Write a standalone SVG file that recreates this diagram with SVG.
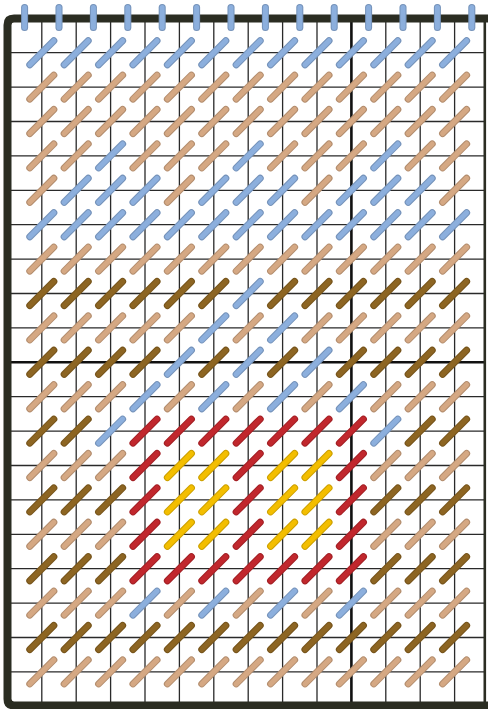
<svg xmlns="http://www.w3.org/2000/svg" xmlns:xlink="http://www.w3.org/1999/xlink" width="488" height="709" viewBox="0 0 488 709">
<style>
.g{stroke:#2a2a2a;stroke-width:1.3;fill:none}
.gt{stroke:#111;stroke-width:2.6;fill:none}
.B{color:#8cafdd}.T{color:#d5a883}.D{color:#8d6522}.R{color:#c1272d}.Y{color:#f3be00}
</style>
<defs>
<g id="s" stroke-linecap="round">
<line x1="-12" y1="12" x2="12" y2="-12" stroke="currentColor" stroke-width="7"/>
<line x1="-12" y1="12" x2="12" y2="-12" stroke="rgba(0,0,0,0.16)" stroke-width="7"/>
<line x1="-12" y1="12" x2="12" y2="-12" stroke="currentColor" stroke-width="5"/>
</g>
<g id="v" stroke-linecap="round">
<line x1="0" y1="7.5" x2="0" y2="27.5" stroke="currentColor" stroke-width="7"/>
<line x1="0" y1="7.5" x2="0" y2="27.5" stroke="rgba(0,0,0,0.16)" stroke-width="7"/>
<line x1="0" y1="7.5" x2="0" y2="27.5" stroke="currentColor" stroke-width="5"/>
</g>
</defs>
<rect x="0" y="0" width="488" height="709" fill="#ffffff"/>
<g id="grid">
<path class="g" d="M41.8 18V705M76.2 18V705M110.6 18V705M145 18V705M179.4 18V705M213.8 18V705M248.2 18V705M282.6 18V705M317 18V705M385.8 18V705M420.2 18V705M454.6 18V705"/>
<path class="g" d="M7 52.7H485M7 87.1H485M7 121.5H485M7 155.9H485M7 190.3H485M7 224.7H485M7 259.1H485M7 293.5H485M7 327.9H485M7 396.7H485M7 431.1H485M7 465.5H485M7 499.9H485M7 534.3H485M7 568.7H485M7 603.1H485M7 637.5H485M7 671.9H485"/>
<path class="gt" d="M351.4 18V705M7 362.3H485"/>
<line x1="484.8" y1="18" x2="484.8" y2="706" stroke="#2b2d22" stroke-width="2.6"/>
</g>
<g id="frame">
<path d="M488 18.6H14Q7.5 18.6 7.5 25V699Q7.5 705.4 14 705.4H488" fill="none" stroke="#2b2d22" stroke-width="8"/>
</g>
<g id="stitches">
<g id="r1" transform="translate(0,52.7)"><use href="#s" x="41.8" class="B"/><use href="#s" x="76.2" class="B"/><use href="#s" x="110.6" class="B"/><use href="#s" x="145" class="B"/><use href="#s" x="179.4" class="B"/><use href="#s" x="213.8" class="B"/><use href="#s" x="248.2" class="B"/><use href="#s" x="282.6" class="B"/><use href="#s" x="317" class="B"/><use href="#s" x="351.4" class="B"/><use href="#s" x="385.8" class="B"/><use href="#s" x="420.2" class="B"/><use href="#s" x="454.6" class="B"/></g>
<g id="r2" transform="translate(0,87.1)"><use href="#s" x="41.8" class="T"/><use href="#s" x="76.2" class="T"/><use href="#s" x="110.6" class="T"/><use href="#s" x="145" class="T"/><use href="#s" x="179.4" class="T"/><use href="#s" x="213.8" class="T"/><use href="#s" x="248.2" class="T"/><use href="#s" x="282.6" class="T"/><use href="#s" x="317" class="T"/><use href="#s" x="351.4" class="T"/><use href="#s" x="385.8" class="T"/><use href="#s" x="420.2" class="T"/><use href="#s" x="454.6" class="T"/></g>
<g id="r3" transform="translate(0,121.5)"><use href="#s" x="41.8" class="T"/><use href="#s" x="76.2" class="T"/><use href="#s" x="110.6" class="T"/><use href="#s" x="145" class="T"/><use href="#s" x="179.4" class="T"/><use href="#s" x="213.8" class="T"/><use href="#s" x="248.2" class="T"/><use href="#s" x="282.6" class="T"/><use href="#s" x="317" class="T"/><use href="#s" x="351.4" class="T"/><use href="#s" x="385.8" class="T"/><use href="#s" x="420.2" class="T"/><use href="#s" x="454.6" class="T"/></g>
<g id="r4" transform="translate(0,155.9)"><use href="#s" x="41.8" class="T"/><use href="#s" x="76.2" class="T"/><use href="#s" x="110.6" class="B"/><use href="#s" x="145" class="T"/><use href="#s" x="179.4" class="T"/><use href="#s" x="213.8" class="T"/><use href="#s" x="248.2" class="B"/><use href="#s" x="282.6" class="T"/><use href="#s" x="317" class="T"/><use href="#s" x="351.4" class="T"/><use href="#s" x="385.8" class="B"/><use href="#s" x="420.2" class="T"/><use href="#s" x="454.6" class="T"/></g>
<g id="r5" transform="translate(0,190.3)"><use href="#s" x="41.8" class="T"/><use href="#s" x="76.2" class="B"/><use href="#s" x="110.6" class="B"/><use href="#s" x="145" class="B"/><use href="#s" x="179.4" class="T"/><use href="#s" x="213.8" class="B"/><use href="#s" x="248.2" class="B"/><use href="#s" x="282.6" class="B"/><use href="#s" x="317" class="T"/><use href="#s" x="351.4" class="B"/><use href="#s" x="385.8" class="B"/><use href="#s" x="420.2" class="B"/><use href="#s" x="454.6" class="T"/></g>
<g id="r6" transform="translate(0,224.7)"><use href="#s" x="41.8" class="B"/><use href="#s" x="76.2" class="B"/><use href="#s" x="110.6" class="B"/><use href="#s" x="145" class="B"/><use href="#s" x="179.4" class="B"/><use href="#s" x="213.8" class="B"/><use href="#s" x="248.2" class="B"/><use href="#s" x="282.6" class="B"/><use href="#s" x="317" class="B"/><use href="#s" x="351.4" class="B"/><use href="#s" x="385.8" class="B"/><use href="#s" x="420.2" class="B"/><use href="#s" x="454.6" class="B"/></g>
<g id="r7" transform="translate(0,259.1)"><use href="#s" x="41.8" class="T"/><use href="#s" x="76.2" class="T"/><use href="#s" x="110.6" class="T"/><use href="#s" x="145" class="T"/><use href="#s" x="179.4" class="T"/><use href="#s" x="213.8" class="T"/><use href="#s" x="248.2" class="T"/><use href="#s" x="282.6" class="T"/><use href="#s" x="317" class="T"/><use href="#s" x="351.4" class="T"/><use href="#s" x="385.8" class="T"/><use href="#s" x="420.2" class="T"/><use href="#s" x="454.6" class="T"/></g>
<g id="r8" transform="translate(0,293.5)"><use href="#s" x="41.8" class="D"/><use href="#s" x="76.2" class="D"/><use href="#s" x="110.6" class="D"/><use href="#s" x="145" class="D"/><use href="#s" x="179.4" class="D"/><use href="#s" x="213.8" class="D"/><use href="#s" x="248.2" class="B"/><use href="#s" x="282.6" class="D"/><use href="#s" x="317" class="D"/><use href="#s" x="351.4" class="D"/><use href="#s" x="385.8" class="D"/><use href="#s" x="420.2" class="D"/><use href="#s" x="454.6" class="D"/></g>
<g id="r9" transform="translate(0,327.9)"><use href="#s" x="41.8" class="T"/><use href="#s" x="76.2" class="T"/><use href="#s" x="110.6" class="T"/><use href="#s" x="145" class="T"/><use href="#s" x="179.4" class="T"/><use href="#s" x="213.8" class="B"/><use href="#s" x="248.2" class="T"/><use href="#s" x="282.6" class="B"/><use href="#s" x="317" class="T"/><use href="#s" x="351.4" class="T"/><use href="#s" x="385.8" class="T"/><use href="#s" x="420.2" class="T"/><use href="#s" x="454.6" class="T"/></g>
<g id="r10" transform="translate(0,362.3)"><use href="#s" x="41.8" class="D"/><use href="#s" x="76.2" class="D"/><use href="#s" x="110.6" class="D"/><use href="#s" x="145" class="D"/><use href="#s" x="179.4" class="B"/><use href="#s" x="213.8" class="D"/><use href="#s" x="248.2" class="B"/><use href="#s" x="282.6" class="D"/><use href="#s" x="317" class="B"/><use href="#s" x="351.4" class="D"/><use href="#s" x="385.8" class="D"/><use href="#s" x="420.2" class="D"/><use href="#s" x="454.6" class="D"/></g>
<g id="r11" transform="translate(0,396.7)"><use href="#s" x="41.8" class="T"/><use href="#s" x="76.2" class="T"/><use href="#s" x="110.6" class="T"/><use href="#s" x="145" class="B"/><use href="#s" x="179.4" class="T"/><use href="#s" x="213.8" class="B"/><use href="#s" x="248.2" class="T"/><use href="#s" x="282.6" class="B"/><use href="#s" x="317" class="T"/><use href="#s" x="351.4" class="B"/><use href="#s" x="385.8" class="T"/><use href="#s" x="420.2" class="T"/><use href="#s" x="454.6" class="T"/></g>
<g id="r12" transform="translate(0,431.1)"><use href="#s" x="41.8" class="D"/><use href="#s" x="76.2" class="D"/><use href="#s" x="110.6" class="B"/><use href="#s" x="145" class="R"/><use href="#s" x="179.4" class="R"/><use href="#s" x="213.8" class="R"/><use href="#s" x="248.2" class="R"/><use href="#s" x="282.6" class="R"/><use href="#s" x="317" class="R"/><use href="#s" x="351.4" class="R"/><use href="#s" x="385.8" class="B"/><use href="#s" x="420.2" class="D"/><use href="#s" x="454.6" class="D"/></g>
<g id="r13" transform="translate(0,465.5)"><use href="#s" x="41.8" class="T"/><use href="#s" x="76.2" class="T"/><use href="#s" x="110.6" class="T"/><use href="#s" x="145" class="R"/><use href="#s" x="179.4" class="Y"/><use href="#s" x="213.8" class="Y"/><use href="#s" x="248.2" class="R"/><use href="#s" x="282.6" class="Y"/><use href="#s" x="317" class="Y"/><use href="#s" x="351.4" class="R"/><use href="#s" x="385.8" class="T"/><use href="#s" x="420.2" class="T"/><use href="#s" x="454.6" class="T"/></g>
<g id="r14" transform="translate(0,499.9)"><use href="#s" x="41.8" class="D"/><use href="#s" x="76.2" class="D"/><use href="#s" x="110.6" class="D"/><use href="#s" x="145" class="R"/><use href="#s" x="179.4" class="Y"/><use href="#s" x="213.8" class="Y"/><use href="#s" x="248.2" class="R"/><use href="#s" x="282.6" class="Y"/><use href="#s" x="317" class="Y"/><use href="#s" x="351.4" class="R"/><use href="#s" x="385.8" class="D"/><use href="#s" x="420.2" class="D"/><use href="#s" x="454.6" class="D"/></g>
<g id="r15" transform="translate(0,534.3)"><use href="#s" x="41.8" class="T"/><use href="#s" x="76.2" class="T"/><use href="#s" x="110.6" class="T"/><use href="#s" x="145" class="R"/><use href="#s" x="179.4" class="Y"/><use href="#s" x="213.8" class="Y"/><use href="#s" x="248.2" class="R"/><use href="#s" x="282.6" class="Y"/><use href="#s" x="317" class="Y"/><use href="#s" x="351.4" class="R"/><use href="#s" x="385.8" class="T"/><use href="#s" x="420.2" class="T"/><use href="#s" x="454.6" class="T"/></g>
<g id="r16" transform="translate(0,568.7)"><use href="#s" x="41.8" class="D"/><use href="#s" x="76.2" class="D"/><use href="#s" x="110.6" class="D"/><use href="#s" x="145" class="R"/><use href="#s" x="179.4" class="R"/><use href="#s" x="213.8" class="R"/><use href="#s" x="248.2" class="R"/><use href="#s" x="282.6" class="R"/><use href="#s" x="317" class="R"/><use href="#s" x="351.4" class="R"/><use href="#s" x="385.8" class="D"/><use href="#s" x="420.2" class="D"/><use href="#s" x="454.6" class="D"/></g>
<g id="r17" transform="translate(0,603.1)"><use href="#s" x="41.8" class="T"/><use href="#s" x="76.2" class="T"/><use href="#s" x="110.6" class="T"/><use href="#s" x="145" class="B"/><use href="#s" x="179.4" class="T"/><use href="#s" x="213.8" class="B"/><use href="#s" x="248.2" class="T"/><use href="#s" x="282.6" class="B"/><use href="#s" x="317" class="T"/><use href="#s" x="351.4" class="B"/><use href="#s" x="385.8" class="T"/><use href="#s" x="420.2" class="T"/><use href="#s" x="454.6" class="T"/></g>
<g id="r18" transform="translate(0,637.5)"><use href="#s" x="41.8" class="D"/><use href="#s" x="76.2" class="D"/><use href="#s" x="110.6" class="D"/><use href="#s" x="145" class="D"/><use href="#s" x="179.4" class="D"/><use href="#s" x="213.8" class="D"/><use href="#s" x="248.2" class="D"/><use href="#s" x="282.6" class="D"/><use href="#s" x="317" class="D"/><use href="#s" x="351.4" class="D"/><use href="#s" x="385.8" class="D"/><use href="#s" x="420.2" class="D"/><use href="#s" x="454.6" class="D"/></g>
<g id="r19" transform="translate(0,671.9)"><use href="#s" x="41.8" class="T"/><use href="#s" x="76.2" class="T"/><use href="#s" x="110.6" class="T"/><use href="#s" x="145" class="T"/><use href="#s" x="179.4" class="T"/><use href="#s" x="213.8" class="T"/><use href="#s" x="248.2" class="T"/><use href="#s" x="282.6" class="T"/><use href="#s" x="317" class="T"/><use href="#s" x="351.4" class="T"/><use href="#s" x="385.8" class="T"/><use href="#s" x="420.2" class="T"/><use href="#s" x="454.6" class="T"/></g>
</g>
<g id="top-threads" class="B"><use href="#v" x="24.6"/><use href="#v" x="59"/><use href="#v" x="93.4"/><use href="#v" x="127.8"/><use href="#v" x="162.2"/><use href="#v" x="196.6"/><use href="#v" x="231"/><use href="#v" x="265.4"/><use href="#v" x="299.8"/><use href="#v" x="334.2"/><use href="#v" x="368.6"/><use href="#v" x="403"/><use href="#v" x="437.4"/><use href="#v" x="471.8"/></g>
</svg>
